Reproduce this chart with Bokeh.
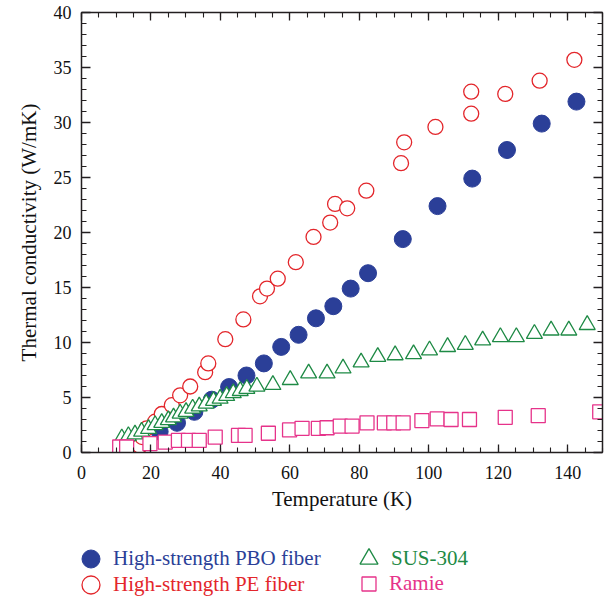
from bokeh.plotting import figure
from bokeh.layouts import column
from bokeh.models import (LinearAxis, Range1d, SingleIntervalTicker, Legend,
                          LegendItem, CustomJSTickFormatter, Title)
from bokeh.embed import file_html
from bokeh.resources import INLINE

# ---------------- data ----------------
pbo_T = [22.5, 27.5, 32.5, 37.5, 42.5, 47.5, 52.5, 57.5, 62.5, 67.5, 72.5,
         77.5, 82.5, 92.5, 102.5, 112.5, 122.5, 132.5, 142.5]
pbo_k = [1.9, 2.7, 3.7, 4.8, 5.95, 7.0, 8.1, 9.6, 10.7, 12.2, 13.3,
         14.9, 16.3, 19.4, 22.4, 24.9, 27.5, 29.9, 31.9]

pe_T = [16.8, 17.5, 18.8, 21.2, 23.1, 26.0, 28.4, 31.3, 35.6, 36.5, 41.4,
        46.6, 51.4, 53.4, 56.5, 61.7, 66.8, 71.6, 73.0, 76.5, 82.0, 92.0,
        92.9, 101.9, 112.2, 112.2, 122.0, 131.9, 141.9]
pe_k = [0.6, 1.4, 2.2, 2.8, 3.5, 4.3, 5.2, 6.0, 7.3, 8.1, 10.3,
        12.1, 14.2, 14.9, 15.8, 17.3, 19.6, 20.9, 22.6, 22.2, 23.8, 26.3,
        28.2, 29.6, 30.8, 32.8, 32.6, 33.8, 35.7]

sus_T = [11.6, 13.5, 15.4, 17.3, 19.3, 21.2, 23.1, 25.0, 26.5, 28.4, 30.1,
         32.0, 33.9, 35.9, 38.0, 39.9, 41.8, 43.7, 45.7, 47.6, 50.5, 55.1,
         60.1, 65.4, 70.7, 75.3, 80.5, 85.3, 90.3, 95.6, 100.2, 105.4, 110.5,
         115.5, 120.6, 125.2, 130.4, 135.2, 140.3, 145.6]
sus_k = [1.3, 1.5, 1.65, 1.9, 2.15, 2.5, 2.7, 2.95, 3.2, 3.55, 3.7,
         4.0, 4.2, 4.45, 4.7, 4.9, 5.15, 5.4, 5.6, 5.8, 6.0, 6.15,
         6.6, 7.2, 7.2, 7.65, 8.2, 8.7, 8.85, 8.95, 9.3, 9.6, 9.8,
         10.2, 10.5, 10.5, 10.8, 11.1, 11.1, 11.6]

ramie_T = [11.0, 13.0, 19.7, 24.1, 27.9, 30.8, 33.9, 38.5, 45.2, 47.1, 53.8,
           59.9, 63.5, 68.2, 70.7, 74.5, 77.9, 82.2, 87.2, 89.9, 92.6, 98.0,
           102.4, 106.4, 111.7, 122.0, 131.5, 149.2]
ramie_k = [0.5, 0.5, 0.8, 0.95, 1.1, 1.1, 1.1, 1.4, 1.55, 1.55, 1.75,
           2.05, 2.2, 2.2, 2.25, 2.4, 2.4, 2.7, 2.7, 2.7, 2.7, 2.9,
           3.05, 3.0, 3.0, 3.2, 3.35, 3.7]

series_labels = ["High-strength PBO fiber", "High-strength PE fiber",
                 "SUS-304", "Ramie"]
x_label = "Temperature (K)"
y_label = "Thermal conductivity (W/mK)"

# ---------------- style ----------------
FONT = "Liberation Serif"
AX = "#231F20"
BLUE = "#2B3F98"
RED = "#E3262B"
GREEN = "#1E8A45"
PINK = "#E6338A"

MAIN_H = 520
LEG_H = 598 - MAIN_H

p = figure(width=610, height=MAIN_H, x_range=Range1d(0, 150), y_range=Range1d(0, 40),
           output_backend="svg", toolbar_location=None,
           min_border_left=81, min_border_right=8, min_border_top=12,
           min_border_bottom=MAIN_H - 452)
p.xgrid.visible = False
p.ygrid.visible = False
p.outline_line_color = None
p.background_fill_color = "white"
p.border_fill_color = "white"


def style_axis(ax, major_in, minor_in, labels=True):
    ax.axis_line_color = AX
    ax.axis_line_width = 1.5
    ax.major_tick_line_color = AX
    ax.minor_tick_line_color = AX
    ax.major_tick_line_width = 1.3
    ax.minor_tick_line_width = 1.1
    ax.major_tick_in = major_in
    ax.major_tick_out = 0
    ax.minor_tick_in = minor_in
    ax.minor_tick_out = 0
    ax.major_label_text_font = FONT
    ax.major_label_text_font_size = "18px"
    ax.major_label_text_color = "#111111"
    ax.axis_label_text_font = FONT
    ax.axis_label_text_font_size = "21px"
    ax.axis_label_text_font_style = "normal"
    ax.axis_label_text_color = "#111111"
    if not labels:
        ax.formatter = CustomJSTickFormatter(code="return ''")
        ax.major_label_standoff = 0


p.xaxis.ticker = SingleIntervalTicker(interval=20, num_minor_ticks=4)
p.yaxis.ticker = SingleIntervalTicker(interval=5, num_minor_ticks=5)
style_axis(p.xaxis[0], 8, 5)
style_axis(p.yaxis[0], 9, 5)
p.yaxis.axis_label = y_label
p.xaxis.major_label_standoff = 13
p.yaxis.major_label_standoff = 10
p.yaxis.axis_label_standoff = 10

# x-axis title, set slightly left of the frame centre as in the reference
xt = Title(text=x_label, align="center", offset=-19, standoff=6,
           text_font=FONT, text_font_size="21px", text_font_style="normal",
           text_color="#111111")
p.add_layout(xt, "below")

top = LinearAxis(ticker=SingleIntervalTicker(interval=20, num_minor_ticks=4))
right = LinearAxis(ticker=SingleIntervalTicker(interval=5, num_minor_ticks=5))
style_axis(top, 8, 5, labels=False)
style_axis(right, 9, 5, labels=False)
p.add_layout(top, "above")
p.add_layout(right, "right")

# ---------------- glyphs ----------------
styles = [
    dict(marker="circle", size=17, fill_color=BLUE, line_color=BLUE, line_width=1),
    dict(marker="circle", size=15, fill_color="white", line_color=RED, line_width=1.3),
    dict(marker="triangle", size=16, fill_color="white", line_color=GREEN, line_width=1.3),
    dict(marker="square", size=14, fill_color="white", line_color=PINK, line_width=1.3),
]
data = [(pbo_T, pbo_k), (pe_T, pe_k), (sus_T, sus_k), (ramie_T, ramie_k)]
for (xs, ys), st in zip(data, styles):
    p.scatter(xs, ys, **st)

# ---------------- legend strip below the chart ----------------
lg = figure(width=610, height=LEG_H, x_range=Range1d(0, 1), y_range=Range1d(0, 1),
            output_backend="svg", toolbar_location=None,
            x_axis_type=None, y_axis_type=None,
            min_border_left=0, min_border_right=0, min_border_top=0, min_border_bottom=0)
lg.xgrid.visible = False
lg.ygrid.visible = False
lg.outline_line_color = None
lg.background_fill_color = "white"
lg.border_fill_color = "white"

# legend-only renderers (a single NaN point, nothing drawn) carrying the marker styles
leg_styles = [
    dict(marker="circle", size=17, fill_color=BLUE, line_color=BLUE, line_width=1),
    dict(marker="circle", size=17, fill_color="white", line_color=RED, line_width=1.3),
    dict(marker="triangle", size=17, fill_color="white", line_color=GREEN, line_width=1.3),
    dict(marker="square", size=14, fill_color="white", line_color=PINK, line_width=1.3),
]
colors = [BLUE, RED, GREEN, PINK]
# (x of box left from frame left, y of box bottom from strip bottom, glyph box, standoff)
placements = [(-13, 17, 45, 0), (-13, -9, 45, 0), (265, 17, 45, 0), (270, -3, 35, 3)]

nan = float("nan")
for lab, st, col, (lx, ly, gw, so) in zip(series_labels, leg_styles, colors, placements):
    r = lg.scatter([nan], [nan], **st)
    leg = Legend(items=[LegendItem(label=lab, renderers=[r])], location=(lx, ly),
                 glyph_width=gw, glyph_height=gw, label_standoff=so,
                 padding=0, margin=0, spacing=0, border_line_color=None,
                 background_fill_alpha=0, label_text_font=FONT,
                 label_text_font_size="21px", label_text_color=col)
    lg.add_layout(leg)

layout = column(p, lg, spacing=0)
open("out.html", "w").write(file_html(layout, INLINE))
